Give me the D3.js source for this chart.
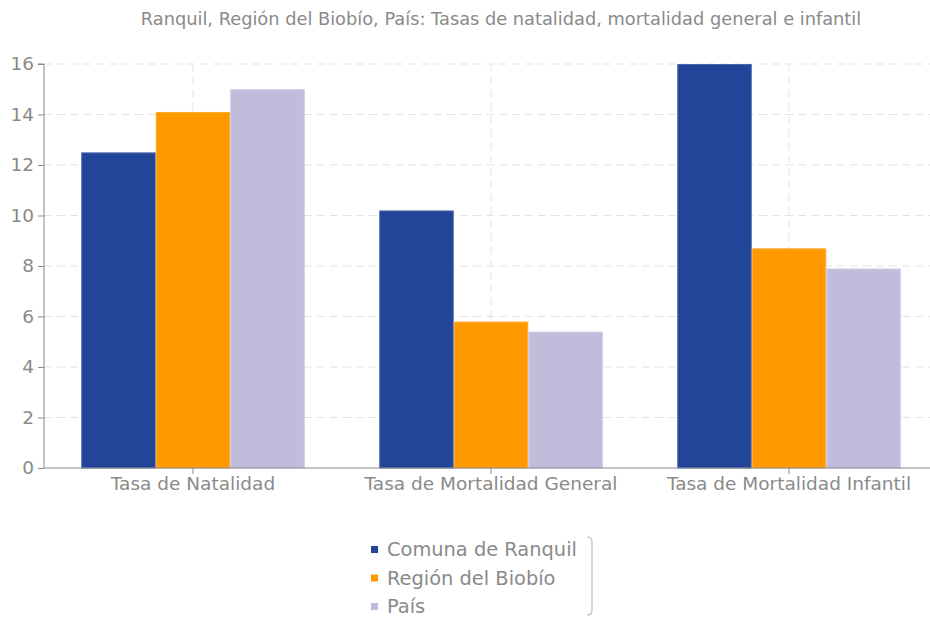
<!DOCTYPE html>
<html>
<head>
<meta charset="utf-8">
<script src="https://cdn.jsdelivr.net/npm/d3@7"></script>
<style>
  body { margin: 0; background: #fff; }
  text { font-family: "DejaVu Sans", Verdana, sans-serif; fill: #8a8a8a; }
</style>
</head>
<body>
<div id="chart"></div>
<script>
// Data
const categories = ["Tasa de Natalidad", "Tasa de Mortalidad General", "Tasa de Mortalidad Infantil"];
const seriesNames = ["Comuna de Ranquil", "Región del Biobío", "País"];
const comuna = [12.5, 10.2, 16.0];
const region = [14.1, 5.8, 8.7];
const pais = [15.0, 5.4, 7.9];
const yTicks = [0, 2, 4, 6, 8, 10, 12, 14, 16];
const title = "Ranquil, Región del Biobío, País: Tasas de natalidad, mortalidad general e infantil";

const colors = ["#224499", "#ff9900", "#c0bcdc"];
const strokes = ["#4a66aa", "#ffaa33", "#cdc9e2"];

const width = 930, height = 618;
const margin = {top: 64, left: 44, bottom: 150};
const plotW = 894, plotH = height - margin.top - margin.bottom;

const table = categories.map((c, i) => ({
  category: c,
  values: [comuna[i], region[i], pais[i]]
}));

const svg = d3.select("#chart").append("svg")
  .attr("width", width)
  .attr("height", height);

svg.append("text")
  .attr("x", 501)
  .attr("y", 25)
  .attr("text-anchor", "middle")
  .attr("font-size", 17.8)
  .text(title);

const g = svg.append("g")
  .attr("transform", `translate(${margin.left} ${margin.top})`);

const x = d3.scaleBand().domain(categories).range([0, plotW]);
const x1 = d3.scaleBand().domain(d3.range(seriesNames.length))
  .range([0, x.bandwidth() * 0.75]);
const y = d3.scaleLinear().domain([0, 16]).range([plotH, 0]);

// Horizontal grid
g.append("g")
  .selectAll("line")
  .data(yTicks.slice(1))
  .join("line")
  .attr("x1", 0)
  .attr("x2", plotW)
  .attr("y1", d => y(d))
  .attr("y2", d => y(d))
  .attr("stroke", "#e3e3e3")
  .attr("stroke-dasharray", "8,5");

// Vertical grid at category centres
g.append("g")
  .selectAll("line")
  .data(categories)
  .join("line")
  .attr("x1", d => x(d) + x.bandwidth() / 2)
  .attr("x2", d => x(d) + x.bandwidth() / 2)
  .attr("y1", 0)
  .attr("y2", plotH)
  .attr("stroke", "#e3e3e3")
  .attr("stroke-dasharray", "8,5");

// Bars
const groups = g.append("g")
  .selectAll("g")
  .data(table)
  .join("g")
  .attr("transform", d => `translate(${x(d.category) + x.bandwidth() * 0.125} 0)`);

groups.selectAll("rect")
  .data(d => d.values.map((v, i) => ({v, i})))
  .join("rect")
  .attr("x", d => x1(d.i) + 0.5)
  .attr("y", d => y(d.v) + 0.5)
  .attr("width", x1.bandwidth() - 1)
  .attr("height", d => y(0) - y(d.v) - 0.5)
  .attr("fill", d => colors[d.i])
  .attr("stroke", d => strokes[d.i])
  .attr("stroke-width", 1);

// Y axis
const yAxis = g.append("g")
  .call(d3.axisLeft(y).tickValues(yTicks).tickSize(6).tickPadding(4));
yAxis.select(".domain").attr("stroke", "#8a8a8a").attr("d", `M0,${plotH}V0H-6`);
yAxis.selectAll(".tick line").attr("stroke", "#8a8a8a");
yAxis.selectAll(".tick text").attr("font-size", 18.5).attr("fill", "#8a8a8a")
  .attr("font-family", "DejaVu Sans");

// X axis
const xAxis = g.append("g")
  .attr("transform", `translate(0 ${plotH})`)
  .call(d3.axisBottom(x).tickSize(6).tickPadding(3));
xAxis.select(".domain").attr("stroke", "#8a8a8a").attr("d", `M0,0H${plotW}`);
xAxis.selectAll(".tick line").attr("stroke", "#8a8a8a");
xAxis.selectAll(".tick text").attr("font-size", 18.5).attr("fill", "#8a8a8a")
  .attr("font-family", "DejaVu Sans");

// Legend
const legend = svg.append("g").attr("transform", "translate(371 548)");
const items = legend.selectAll("g")
  .data(seriesNames)
  .join("g")
  .attr("transform", (d, i) => `translate(0 ${i * 28.5})`);
items.append("rect")
  .attr("x", 0)
  .attr("y", -2)
  .attr("width", 7)
  .attr("height", 7)
  .attr("fill", (d, i) => colors[i]);
items.append("text")
  .attr("x", 16)
  .attr("y", 8)
  .attr("font-size", 19.4)
  .text(d => d);

legend.append("path")
  .attr("d", "M216,-11 Q221,-11 221,-6 V62 Q221,67 216,67")
  .attr("fill", "none")
  .attr("stroke", "#bbbbbb")
  .attr("stroke-width", 1.2);
</script>
</body>
</html>
